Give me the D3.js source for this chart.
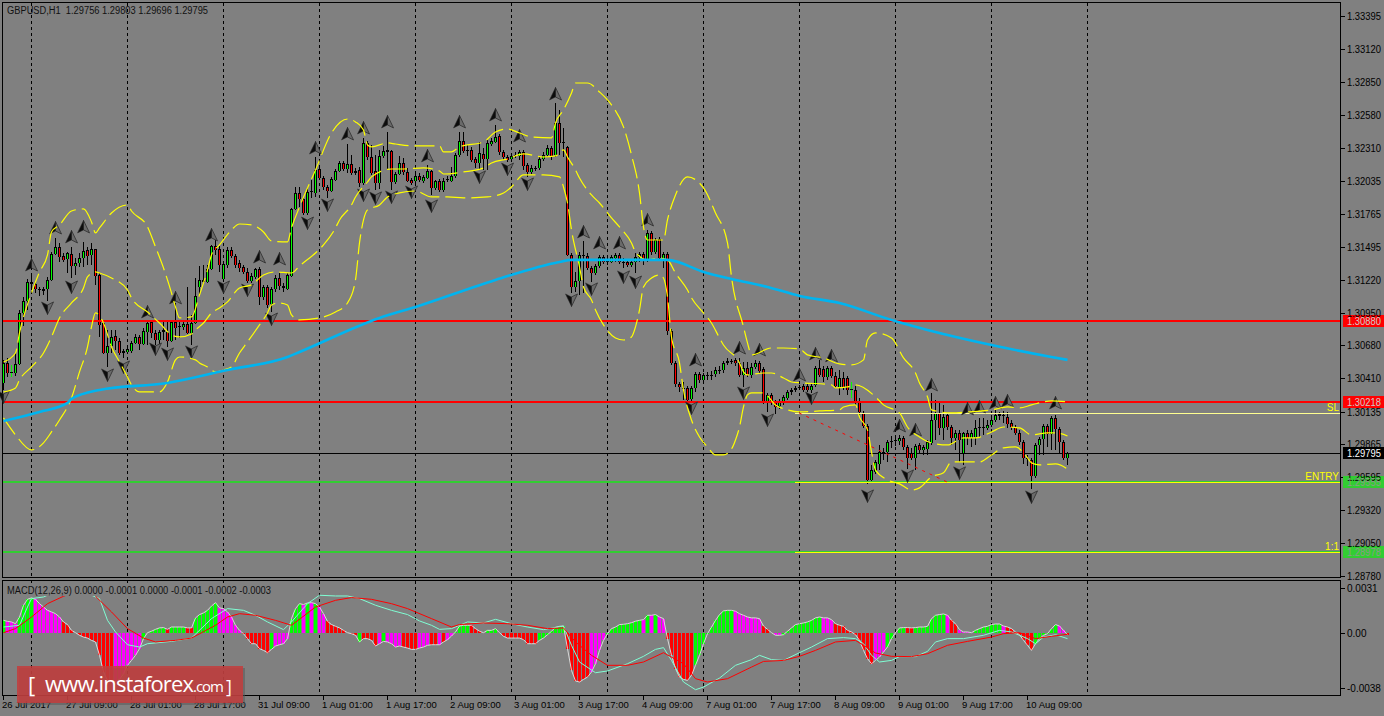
<!DOCTYPE html>
<html><head><meta charset="utf-8">
<style>html,body{margin:0;padding:0;background:#808080;overflow:hidden}svg{display:block}text{font-family:"Liberation Sans",sans-serif}</style>
<script src="https://cdn.jsdelivr.net/npm/d3@7"></script>
</head><body><svg id="c" width="1384" height="716"></svg>
<script>
// All OHLC / band / fractal values are points above 1.28000 (1 point = 0.00001)
const BASE = 1.28, POINT = 0.00001;
const opens=[2371,2536,2453,2453,2528,2948,3047,3204,3187,3146,3129,3146,3220,3434,3492,3418,3393,3434,3335,3360,3401,3467,3426,3475,3261,2865,2618,2676,2758,2717,2635,2627,2635,2701,2750,2692,2791,2874,2783,2725,2791,2791,2717,2874,2841,2833,2857,2783,2865,3162,3204,3204,3310,3500,3475,3228,3343,3467,3418,3360,3327,3286,3212,3245,3310,3080,3162,3022,3146,3236,3170,3146,3253,3805,3937,3887,3772,3945,3937,4134,4060,3986,3953,4044,4118,4184,4134,4176,4118,4126,4019,4349,4233,4118,4019,4242,4275,4283,4027,4093,4184,4110,4044,4036,4077,4036,4060,4118,3978,4036,3961,4044,4036,4077,4250,4365,4291,4291,4217,4184,4258,4217,4340,4357,4406,4275,4233,4217,4242,4242,4275,4167,4110,4134,4143,4217,4250,4308,4250,4513,4357,4316,3426,3162,3212,3426,3418,3319,3277,3335,3409,3376,3368,3401,3426,3368,3368,3343,3368,3409,3434,3393,3607,3451,3558,3393,3434,2800,2536,2363,2330,2330,2239,2330,2445,2396,2428,2428,2445,2470,2478,2536,2544,2561,2536,2437,2495,2437,2503,2536,2486,2215,2272,2215,2181,2206,2247,2297,2313,2330,2346,2346,2313,2355,2495,2486,2420,2495,2428,2338,2412,2412,2313,2313,2215,2124,2017,1572,1638,1704,1794,1803,1885,1893,1893,1918,1844,1794,1753,1860,1819,1827,1877,2066,2124,2000,2107,2008,1918,1959,1794,1959,1918,1926,2000,2000,2000,2025,2066,2099,2107,2091,2041,2008,1959,1885,1753,1737,1605,1860,1910,2017,1951,2083,1992,1885,1756];
const highs=[2561,2577,2520,2618,2973,3080,3228,3261,3204,3162,3162,3245,3451,3566,3525,3442,3451,3492,3401,3442,3533,3492,3525,3475,3277,2874,2808,2808,2808,2742,2651,2668,2717,2775,2767,2824,2890,2890,2808,2808,2874,2874,2890,3030,2874,2890,3162,2931,3236,3335,3343,3343,3508,3549,3500,3368,3492,3492,3434,3385,3343,3319,3277,3319,3327,3179,3179,3162,3261,3277,3195,3277,3813,3986,3986,3904,3986,4044,4233,4151,4077,4003,4069,4134,4200,4200,4340,4250,4143,4151,4390,4365,4332,4250,4291,4324,4439,4291,4110,4242,4225,4143,4060,4093,4101,4085,4167,4126,4044,4052,4060,4077,4151,4266,4439,4439,4332,4316,4233,4357,4308,4373,4390,4497,4423,4291,4250,4266,4275,4291,4291,4184,4167,4159,4233,4275,4332,4324,4678,4621,4472,4324,3442,3286,3451,3541,3442,3335,3352,3426,3426,3401,3426,3442,3442,3401,3385,3385,3442,3451,3451,3632,3624,3566,3574,3451,3451,2816,2552,2379,2379,2346,2346,2462,2462,2453,2462,2470,2503,2511,2552,2577,2569,2577,2577,2544,2544,2536,2561,2552,2503,2289,2289,2231,2239,2272,2313,2330,2346,2355,2363,2363,2363,2511,2561,2511,2511,2511,2462,2478,2462,2428,2379,2346,2247,2140,2033,1695,1737,1860,1836,1901,1934,1943,1943,1934,1860,1836,1869,1877,1860,1901,2289,2231,2206,2190,2124,2025,1984,1984,1967,1984,1984,2066,2083,2083,2066,2107,2149,2132,2140,2132,2066,2025,1984,1901,1778,1753,1877,1926,2033,2033,2099,2107,2008,1901,1803];
const lows=[2313,2420,2420,2428,2520,2841,2973,3137,3113,3088,3096,3047,3212,3426,3368,3368,3277,3236,3261,3327,3327,3343,3343,3179,2750,2610,2503,2618,2643,2602,2577,2610,2618,2692,2643,2684,2684,2742,2684,2668,2725,2668,2709,2725,2742,2808,2775,2684,2857,3088,3195,3195,3302,3426,3286,3220,3319,3401,3319,3286,3269,3195,3195,3228,3014,3055,2989,2956,3121,3137,3121,3137,3245,3797,3821,3755,3755,3896,3904,4044,3961,3896,3945,4036,4110,4118,4101,4085,4085,3986,4003,4209,4085,3961,3970,4225,4126,3961,4011,4085,4085,4027,4003,4011,4027,4019,4052,3920,3961,3945,3945,4027,4027,4060,4233,4266,4242,4192,4143,4126,4126,4126,4324,4349,4250,4209,4192,4192,4225,4209,4126,4069,4093,4118,4126,4200,4233,4209,4233,4250,4233,3418,3113,3121,3096,3113,3302,3204,3261,3319,3352,3343,3360,3368,3352,3319,3327,3327,3277,3368,3343,3368,3426,3434,3385,3319,2767,2520,2338,2297,2231,2215,2215,2297,2371,2379,2396,2396,2420,2445,2453,2520,2528,2511,2420,2338,2420,2412,2486,2453,2198,2132,2190,2116,2157,2190,2231,2272,2297,2313,2297,2297,2289,2338,2420,2379,2396,2412,2330,2272,2313,2272,2247,2190,2107,2000,1539,1555,1621,1654,1737,1720,1836,1852,1860,1819,1663,1737,1654,1786,1778,1778,1860,1901,1943,1901,1984,1860,1819,1720,1695,1860,1844,1860,1926,1943,1984,2008,2050,2066,2041,2000,1984,1943,1860,1704,1687,1498,1588,1778,1778,1844,1819,1819,1794,1737,1696];
const closes=[2536,2453,2462,2528,2948,3047,3204,3187,3146,3137,3146,3220,3434,3492,3409,3385,3442,3335,3360,3401,3459,3418,3475,3253,2849,2618,2676,2750,2717,2618,2618,2651,2701,2750,2692,2800,2865,2783,2725,2791,2808,2717,2874,2824,2833,2857,2783,2865,3088,3220,3220,3310,3500,3467,3343,3352,3467,3418,3343,3319,3286,3212,3253,3310,3080,3162,3014,3146,3236,3170,3154,3261,3805,3937,3887,3772,3945,3953,4126,4060,3986,3953,4052,4118,4184,4134,4176,4101,4101,4019,4349,4233,4101,4019,4242,4283,4291,4027,4093,4184,4110,4036,4019,4077,4044,4069,4118,3978,4036,3961,4036,4052,4077,4250,4365,4283,4283,4209,4184,4266,4217,4349,4365,4398,4275,4233,4209,4242,4250,4275,4159,4110,4143,4143,4217,4250,4308,4242,4513,4349,4349,3426,3162,3212,3426,3418,3319,3277,3335,3409,3368,3368,3409,3426,3368,3360,3343,3368,3409,3434,3385,3607,3451,3549,3401,3434,2800,2536,2363,2338,2322,2231,2330,2445,2396,2437,2437,2437,2478,2478,2536,2552,2552,2536,2437,2495,2437,2503,2536,2470,2215,2272,2206,2173,2223,2256,2297,2313,2330,2338,2313,2313,2346,2495,2437,2420,2495,2428,2346,2412,2338,2313,2322,2215,2132,2017,1572,1654,1720,1803,1803,1885,1893,1901,1918,1844,1753,1753,1852,1819,1844,1885,2066,2124,2000,2091,2008,1918,1959,1901,1959,1918,1959,2000,2008,2008,2025,2066,2107,2116,2099,2033,2008,1959,1885,1753,1745,1605,1860,1910,2017,1951,2083,1992,1885,1753,1795];
const crossBars=[2,212];
const upperBars=[0,3,4,7,9,11,12,14,17,20,22,23,24,27,31,32,36,38,40,42,43,44,47,49,51,52,54,57,59,62,65,67,71,72,74,78,82,86,88,90,91,92,96,98,103,109,110,112,114,120,123,126,129,132,137,138,140,142,143,146,149,152,155,157,159,160,161,165,166,168,171,175,178,181,182,185,186,187,192,195,199,201,205,209,212,215,216,218,222,225,228,229,231,232,237,241,247,251,254,257,262,266];
const upperPts=[2544,2618,2783,3113,3286,3426,3615,3673,3788,3805,3698,3607,3648,3772,3838,3788,3657,3492,3319,3113,2997,2907,2915,3096,3302,3426,3508,3632,3681,3673,3615,3541,3533,3648,3821,4126,4431,4546,4522,4456,4332,4316,4349,4340,4324,4324,4275,4275,4316,4357,4439,4464,4431,4398,4390,4513,4621,4761,4843,4843,4769,4662,4481,4250,3937,3657,3549,3549,3714,3920,4069,3978,3772,3525,3245,2833,2701,2602,2659,2659,2651,2602,2577,2528,2520,2561,2725,2783,2742,2577,2453,2371,2256,2149,2124,2132,2149,2173,2165,2190,2223,2215];
const middleBars=[0,3,4,7,10,12,14,17,20,21,23,24,27,31,32,36,39,42,44,47,48,50,52,54,56,59,62,65,68,72,74,78,80,83,84,87,88,91,92,97,100,105,109,110,115,120,122,126,130,135,138,140,141,143,144,147,149,152,154,157,158,161,164,166,168,171,172,175,177,179,180,184,185,186,190,192,195,197,200,207,208,211,213,218,220,224,226,229,232,236,240,243,247,250,254,257,261,263,266];
const middlePts=[2297,2330,2396,2503,2618,2750,2907,3030,3154,3245,3286,3277,3236,3137,3072,2956,2865,2767,2750,2775,2808,2865,2948,2989,3039,3154,3179,3261,3286,3277,3335,3442,3508,3648,3714,3838,3904,4027,4069,4134,4134,4143,4118,4093,4110,4143,4184,4217,4258,4233,4242,4291,4233,4126,4060,3920,3854,3731,3657,3525,3451,3385,3401,3385,3277,3137,3072,2948,2865,2742,2684,2536,2462,2437,2453,2453,2412,2379,2371,2355,2330,2338,2355,2256,2190,2124,2008,1926,1877,1860,1918,1918,1967,2008,2000,1943,1959,1959,1934];
const lowerBars=[0,3,7,10,12,14,17,19,21,22,23,25,27,29,31,32,34,36,39,41,43,44,48,49,51,53,55,57,59,61,64,66,67,69,71,72,74,79,83,86,88,89,90,91,94,96,99,103,107,111,115,121,125,127,130,135,139,140,141,142,144,145,147,148,150,153,155,157,158,159,160,162,164,165,166,167,169,170,172,174,176,178,180,182,183,184,185,186,187,190,193,196,199,204,209,210,213,214,216,217,218,221,224,227,229,232,235,237,240,244,247,250,253,256,257,259,263,266];
const lowerPts=[2083,1943,1819,1877,1967,2066,2247,2462,2668,2833,2948,2865,2668,2544,2420,2355,2297,2297,2297,2379,2561,2585,2561,2536,2503,2462,2478,2503,2618,2709,2849,2948,3014,3030,3014,2931,2890,2907,2956,3030,3220,3525,3714,3797,3838,3904,3937,3953,3904,3904,3896,3904,3937,3986,4085,4085,4069,3986,3854,3632,3327,3162,3055,2973,2849,2742,2725,2750,2833,2973,3162,3236,3261,3236,3080,2750,2536,2313,2066,1926,1844,1778,1778,1827,1901,2008,2173,2272,2289,2289,2190,2149,2132,2140,2149,2173,2190,2091,1984,1803,1654,1572,1539,1489,1506,1597,1630,1720,1720,1720,1778,1836,1844,1753,1712,1695,1704,1662];
const maBars=[0,9,16,17,24,41,56,71,74,94,103,123,139,142,164,166,175,182,191,199,209,222,231,247,262,266];
const maPts=[2058,2132,2206,2239,2313,2371,2478,2585,2626,2907,2997,3220,3368,3385,3385,3385,3286,3228,3162,3088,3030,2890,2808,2684,2585,2561];
const upFractalBars=[7,13,17,20,36,43,52,64,69,78,86,90,96,106,114,123,129,138,145,149,154,161,173,184,189,199,203,207,224,228,232,241,244,248,251,263];
const upFractalPts=[3343,3648,3574,3657,2956,3072,3591,3409,3393,4307,4423,4472,4522,4242,4522,4579,4406,4752,3615,3525,3525,3714,2561,2659,2643,2437,2610,2594,2017,1984,2355,2157,2173,2206,2223,2206];
const downFractalBars=[0,11,17,26,30,38,41,47,55,61,67,76,81,90,93,97,102,107,119,126,131,142,147,155,158,172,185,191,202,216,226,239,257];
const downFractalPts=[2256,2989,3162,2437,2503,2651,2610,2627,3162,3137,2898,3689,3838,3920,3896,3904,3945,3830,4069,4134,4011,3055,3146,3245,3203,2165,2289,2066,2247,1440,1605,1630,1432];
const resistanceLevels=[1.30880,1.30218];
const stopLevel=1.30124, entryLevel=1.29555, targetLevel=1.28978, lastPrice=1.29795;
const trendBars=[199,236], trendPts=[2124,1555];
const priceTicks=[1.33395,1.33120,1.32850,1.32580,1.32310,1.32035,1.31765,1.31495,1.31220,1.30950,1.30680,1.30410,1.30135,1.29865,1.29595,1.29320,1.29050,1.28780];
// MACD histogram, in points
const macdHist=[87,80,76,64,110,191,232,242,232,202,179,156,145,133,110,76,58,18,2,-16,-28,-35,-51,-62,-154,-269,-327,-338,-334,-320,-281,-223,-189,-154,-108,-39,2,12,25,35,37,25,41,41,41,41,35,35,104,127,138,156,186,209,173,168,145,110,53,18,-5,-39,-74,-74,-108,-120,-136,-113,-90,-81,-74,-39,99,168,202,196,207,209,202,179,133,80,58,46,35,18,2,-5,-16,-62,-39,-39,-51,-90,-74,-58,-62,-74,-97,-90,-97,-104,-113,-113,-104,-97,-85,-81,-81,-81,-62,-46,-21,7,48,53,53,53,30,12,2,18,18,30,2,-23,-35,-35,-35,-35,-46,-74,-74,-74,-51,-35,-12,12,39,46,48,-108,-258,-331,-338,-320,-304,-269,-212,-120,-51,-5,30,41,58,60,64,71,81,87,92,122,122,127,110,99,-39,-154,-246,-304,-320,-327,-292,-223,-154,-74,-5,41,87,127,152,156,156,150,133,122,110,104,104,99,48,25,2,-16,-16,-12,12,35,58,64,69,76,87,104,110,104,104,92,64,53,46,18,7,-12,-51,-120,-177,-212,-189,-166,-131,-97,-39,2,35,37,37,35,37,41,41,46,99,122,127,131,122,87,64,23,7,7,2,18,30,41,46,58,62,62,48,41,30,7,-12,-51,-85,-120,-74,-39,-16,-5,30,58,48,18,-12];
const histState=("gmmmggggmm mmmmmrrrrr rrrrrrrrmm mmmmmggggg grggggrrgg ggggmmmmmm rrrrrrrgmm mmgggmgmgm mrrrrrrrrg rrrrmgmmmm rrrrmmmrrm rmmggggrrr mgggrrrrrr rrrrgggggg grrrrrrmmm mggggggggg mgmgmmrrrr rrrggggggg gggmmmmmmm rrrmmggggg gggggmmmrr rrrrrrrrmm mgggggrrgg ggggggmrrm mmgggggggg mrrrrrrrgg ggggmmr").replace(/ /g,"");
const macdBars=[0,4,6,7,10,11,14,19,22,24,26,28,31,34,36,42,47,52,56,60,63,66,70,72,76,79,83,86,89,93,97,101,104,107,109,112,114,116,120,123,127,131,135,140,142,144,148,151,156,160,163,165,167,170,173,175,179,183,187,189,192,195,199,202,206,210,213,215,217,219,222,224,228,231,233,236,240,245,249,252,256,258,260,263,266];
const macdVals=[41,53,179,237,248,260,294,294,260,237,87,7,-81,-97,-74,-58,-35,99,168,156,122,76,23,76,202,260,255,255,237,191,156,127,83,53,25,30,53,76,69,94,64,41,23,48,-85,-200,-274,-262,-212,-161,-113,-101,-189,-338,-391,-373,-311,-223,-184,-154,-184,-189,-136,-97,-39,-32,-39,-74,-154,-200,-189,-163,-163,-127,-62,-39,-39,-16,18,7,-39,-74,-28,-12,-39];
const signalBars=[0,3,7,11,15,18,22,23,27,31,35,38,43,47,53,56,59,63,68,72,78,83,87,92,97,101,107,112,114,120,126,131,136,140,143,147,151,156,160,165,170,173,176,181,187,190,195,199,203,208,213,215,218,222,227,231,236,241,247,250,254,258,262,266];
const signalVals=[2,30,110,202,253,283,283,253,145,30,-35,-62,-51,-35,53,110,133,122,87,53,179,225,244,232,202,168,99,41,58,69,64,53,30,35,-62,-154,-223,-223,-200,-136,-212,-315,-338,-315,-235,-196,-189,-161,-120,-62,-51,-85,-138,-161,-163,-143,-85,-58,-28,-5,2,-39,-23,-9];
const dateLabels=["26 Jul 2017","27 Jul 09:00","28 Jul 01:00","28 Jul 17:00","31 Jul 09:00","1 Aug 01:00","1 Aug 17:00","2 Aug 09:00","3 Aug 01:00","3 Aug 17:00","4 Aug 09:00","7 Aug 01:00","7 Aug 17:00","8 Aug 09:00","9 Aug 01:00","9 Aug 17:00","10 Aug 09:00"];
const dateLabelStep=16;
const gridBars=[7,31,55,79,103,127,151,175,199,223,247,271];

const BG="#808080",UP="#00ff00",DOWN="#ff0000",YEL="#ffff00",FRAME="#000";
const px=p=>BASE+p*POINT;
const svg=d3.select("#c");
const X=d3.scaleLinear().domain([0,266]).range([3,1067]);
const Y=d3.scaleLinear().domain([1.28780,1.33395]).range([576,16]);
const M=d3.scaleLinear().domain([-0.0038,0.0031]).range([688.1,588]);
const hline=(g,y,x1,x2,c,w,dash)=>g.append("line").attr("x1",x1).attr("x2",x2).attr("y1",y).attr("y2",y).attr("stroke",c).attr("stroke-width",w).attr("stroke-dasharray",dash||null);

svg.append("rect").attr("width",1384).attr("height",716).attr("fill",BG);
const crisp=svg.append("g").attr("shape-rendering","crispEdges");

// grid
const grid=crisp.append("g");
[[3,578],[581,695]].forEach(([a,b])=>{
  grid.selectAll(null).data(gridBars).join("line")
   .attr("x1",d=>X(d)+.5).attr("x2",d=>X(d)+.5).attr("y1",a).attr("y2",b)
   .attr("stroke","#000").attr("stroke-dasharray","3,3");
});
hline(crisp,Math.round(Y(lastPrice))+.5,3,1341,"#000",1);

// fractal markers
const upL="M0,-6.5L-6,6L0,3Z", upR="M0,-6.5L6,6L0,3Z";
function markers(bars,pts,flip){
  const g=svg.append("g");
  const s=g.selectAll(null).data(bars.map((b,i)=>[b,pts[i]])).join("g")
    .attr("transform",d=>`translate(${X(d[0])+.5},${Y(px(d[1]))})${flip?" scale(1,-1)":""}`);
  s.append("path").attr("d",upR).attr("fill","#6a6a6a").attr("stroke","#2c2c2c").attr("stroke-width",.8);
  s.append("path").attr("d",upL).attr("fill","#0c0c0c").attr("stroke","#2c2c2c").attr("stroke-width",.5);
}
markers(upFractalBars,upFractalPts,false);
markers(downFractalBars,downFractalPts,true);

// candles
const bars=d3.range(closes.length);
const cg=crisp.append("g");
cg.selectAll(".w").data(bars).join("rect").attr("class","w")
  .attr("x",i=>X(i)).attr("width",1)
  .attr("y",i=>Math.round(Y(px(highs[i])))).attr("height",i=>Math.max(1,Y(px(lows[i]))-Y(px(highs[i]))))
  .attr("fill",i=>crossBars.includes(i)?"#00ff00":"#000");
cg.selectAll(".b").data(bars).join("rect").attr("class","b")
  .attr("x",i=>X(i)-1).attr("width",3)
  .attr("y",i=>Math.round(Y(px(Math.max(opens[i],closes[i]))))).attr("height",i=>Math.max(1,Math.round(Math.abs(Y(px(opens[i]))-Y(px(closes[i]))))))
  .attr("fill","#000");
cg.selectAll(".f").data(bars.filter(i=>Math.abs(opens[i]-closes[i])>20)).join("rect").attr("class","f")
  .attr("x",i=>X(i)).attr("width",1)
  .attr("y",i=>Math.round(Y(px(Math.max(opens[i],closes[i]))))+1).attr("height",i=>Math.max(1,Math.round(Math.abs(Y(px(opens[i]))-Y(px(closes[i]))))-1))
  .attr("fill",i=>closes[i]>=opens[i]?UP:DOWN);

// bollinger bands
const line=d3.line().x(d=>X(d[0])+.5).y(d=>Y(px(d[1]))).curve(d3.curveMonotoneX);
[[upperBars,upperPts],[middleBars,middlePts],[lowerBars,lowerPts]].forEach(([b,p])=>{
  svg.append("path").attr("d",line(b.map((v,i)=>[v,p[i]]))).attr("fill","none").attr("stroke",YEL).attr("stroke-width",1.2).attr("stroke-dasharray","20,6");
});
// moving average
svg.append("path").attr("d",line(maBars.map((v,i)=>[v,maPts[i]]))).attr("fill","none").attr("stroke","#00b4f0").attr("stroke-width",2.6);

// levels
resistanceLevels.forEach(l=>hline(crisp,Math.round(Y(l)),3,1341,"#ff0000",2));
[entryLevel,targetLevel].forEach(l=>{
  const y=Math.round(Y(l));
  hline(crisp,y,3,1341,"#32cd32",2);
  hline(crisp,y+.5,X(198),1341,YEL,1);
});
hline(crisp,Math.round(Y(stopLevel))+.5,X(198),1341,"#ffff90",1);
svg.append("line").attr("x1",X(trendBars[0])).attr("x2",X(trendBars[1])).attr("y1",Y(px(trendPts[0]))).attr("y2",Y(px(trendPts[1])))
  .attr("stroke","#ff0000").attr("stroke-dasharray","3,5");
[["SL",stopLevel,-2],["ENTRY",entryLevel,-2],["1:1",targetLevel,-2]].forEach(([t,l,dy])=>{
  svg.append("text").attr("x",1339).attr("y",Y(l)+dy).attr("text-anchor","end").attr("font-size",10).attr("fill",YEL).text(t);
});

// MACD panel
const mg=crisp.append("g");
const M0=M(0);
const histColor={g:"#00ff00",m:"#ff00ff",r:"#ff0000"};
mg.selectAll("rect").data(bars).join("rect")
  .attr("x",i=>X(i)-1).attr("width",3)
  .attr("y",i=>Math.min(M(macdHist[i]*POINT),M0)).attr("height",i=>Math.abs(M(macdHist[i]*POINT)-M0))
  .attr("fill",i=>histColor[histState[i]]);
const lm=d3.line().x(d=>X(d[0])+.5).y(d=>M(d[1]*POINT));
svg.append("path").attr("d",lm(bars.map(i=>[i,macdHist[i]]))).attr("fill","none").attr("stroke","#d8d8d8").attr("stroke-width",1);
svg.append("path").attr("d",lm(macdBars.map((v,i)=>[v,macdVals[i]]))).attr("fill","none").attr("stroke","#7fffd4").attr("stroke-width",1);
svg.append("path").attr("d",lm(signalBars.map((v,i)=>[v,signalVals[i]]))).attr("fill","none").attr("stroke","#ff0000").attr("stroke-width",1);
svg.append("rect").attr("x",5).attr("y",583).attr("width",268).attr("height",13).attr("fill",BG);

// frames
const fr=crisp.append("g").attr("fill","none").attr("stroke",FRAME);
fr.append("rect").attr("x",2.5).attr("y",2.5).attr("width",1338).attr("height",575);
fr.append("rect").attr("x",2.5).attr("y",580.5).attr("width",1338).attr("height",115);

// labels
const lab=svg.append("g").attr("font-size",10).attr("fill","#000");
lab.append("text").attr("x",7).attr("y",14).attr("fill","#111").style("white-space","pre").attr("textLength",201).attr("lengthAdjust","spacingAndGlyphs").text("GBPUSD,H1  1.29756 1.29803 1.29696 1.29795");
lab.append("text").attr("x",7).attr("y",594).attr("fill","#111").attr("textLength",264).attr("lengthAdjust","spacingAndGlyphs").text("MACD(12,26,9) 0.0000 -0.0001 0.0000 -0.0001 -0.0002 -0.0003");
priceTicks.forEach(t=>{
  const y=Math.round(Y(t));
  hline(crisp,y+.5,1341,1345,"#000",1);
  lab.append("text").attr("x",1347).attr("y",y+4).attr("textLength",34).attr("lengthAdjust","spacingAndGlyphs").text(t.toFixed(5));
});
[[0.0031,"0.0031"],[0,"0.00"],[-0.0038,"-0.0038"]].forEach(([v,t])=>{
  const y=Math.round(M(v));
  hline(crisp,y+.5,1341,1345,"#000",1);
  lab.append("text").attr("x",1347).attr("y",y+4).text(t);
});
dateLabels.forEach((t,k)=>{
  const x=X(k*dateLabelStep);
  crisp.append("line").attr("x1",x+.5).attr("x2",x+.5).attr("y1",696).attr("y2",700).attr("stroke","#000");
  lab.append("text").attr("x",x-1).attr("y",708).attr("font-size",9.5).text(t);
});

// price tags
[[resistanceLevels[0],"#ff0000","#d0c8c8"],[resistanceLevels[1],"#ff0000","#d0c8c8"],[lastPrice,"#000","#fff"],[entryLevel,"#32cd32","#8a9a8a"],[targetLevel,"#32cd32","#8a9a8a"]].forEach(([v,bg,fg])=>{
  const y=Math.round(Y(v));
  crisp.append("rect").attr("x",1343).attr("y",y-6).attr("width",41).attr("height",12).attr("fill",bg);
  lab.append("text").attr("x",1347).attr("y",y+4).attr("fill",fg).attr("textLength",34).attr("lengthAdjust","spacingAndGlyphs").text(v.toFixed(5));
});

// watermark
const wm=svg.append("g");
wm.append("rect").attr("x",19).attr("y",668).attr("width",226).attr("height",37).attr("fill","#555").attr("opacity",.5);
wm.append("rect").attr("x",17).attr("y",666).attr("width",226).attr("height",37).attr("fill","#c43c3c").attr("opacity",.85);
const wf='"Open Sans",sans-serif';
wm.append("text").attr("x",28).attr("y",693).attr("font-size",22).attr("fill","#fff").style("font-family",wf).text("[");
wm.append("text").attr("x",45).attr("y",692).attr("font-size",22).attr("fill","#fff").attr("textLength",149).style("font-family",wf).text("www.instaforex");
wm.append("text").attr("x",193).attr("y",692).attr("font-size",15).attr("fill","#fff").attr("textLength",31).style("font-family",wf).text(".com");
wm.append("text").attr("x",226).attr("y",693).attr("font-size",18).attr("fill","#fff").style("font-family",wf).text("]");
</script></body></html>
